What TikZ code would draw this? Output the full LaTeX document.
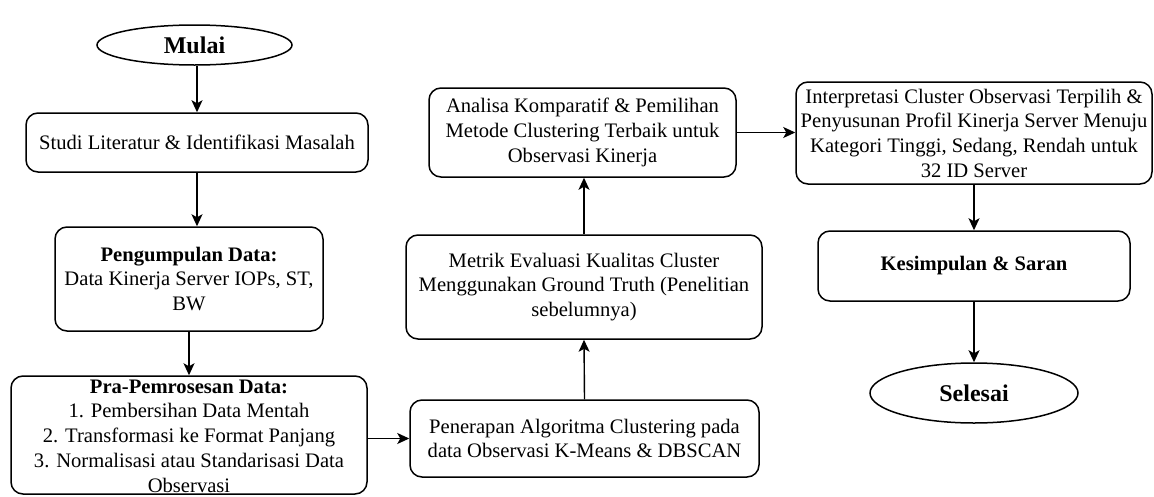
\documentclass[tikz,border=0pt]{standalone}
\usepackage{fontspec}
\setmainfont{Liberation Serif}
\usetikzlibrary{shapes.geometric,arrows.meta}
\begin{document}
\begin{tikzpicture}[x=1pt,y=-1pt,
  box/.style={draw, line width=1.5pt, rounded corners=12pt, align=center, inner sep=0pt,
    font=\fontsize{20.6}{24.7}\selectfont},
  term/.style={draw, ellipse, line width=1.5pt, inner sep=0pt, align=center,
    font=\fontsize{24}{28}\selectfont\bfseries},
  arr/.style={line width=1.4pt, -{Stealth[length=12pt,width=11pt,inset=3pt]}}]
\useasboundingbox (0,0) rectangle (1154,496);

\node[term, minimum width=195pt, minimum height=40pt] (mulai) at (194.5,45) {Mulai};
\node[box, minimum width=342pt, minimum height=59pt] (studi) at (197,142.5) {Studi Literatur \& Identifikasi Masalah};
\node[box, minimum width=268pt, minimum height=104pt] (peng) at (189,279) {\textbf{Pengumpulan Data:}\\Data Kinerja Server IOPs, ST,\\BW};
\node[box, minimum width=356pt, minimum height=118pt] (pra) at (189,435) {};
\node[align=center, inner sep=0pt, font=\fontsize{20.6}{24.7}\selectfont] (pratext) at (189,436) {\textbf{Pra-Pemrosesan Data:}\\1. Pembersihan Data Mentah\\2. Transformasi ke Format Panjang\\3. Normalisasi atau Standarisasi Data\\Observasi};
\node[box, minimum width=349pt, minimum height=77pt] (pen) at (584.5,438.5) {Penerapan Algoritma Clustering pada\\data Observasi K-Means \& DBSCAN};
\node[box, minimum width=356pt, minimum height=104pt] (met) at (584,287) {Metrik Evaluasi Kualitas Cluster\\Menggunakan Ground Truth (Penelitian\\sebelumnya)};
\node[box, minimum width=307pt, minimum height=89pt] (ana) at (582.5,132.5) {Analisa Komparatif \& Pemilihan\\Metode Clustering Terbaik untuk\\Observasi Kinerja};
\node[box, minimum width=356pt, minimum height=102pt] (int) at (974,133) {Interpretasi Cluster Observasi Terpilih \&\\Penyusunan Profil Kinerja Server Menuju\\Kategori Tinggi, Sedang, Rendah untuk\\32 ID Server};
\node[box, minimum width=312pt, minimum height=70pt] (kes) at (974,266) {\textbf{Kesimpulan \& Saran}};
\node[term, minimum width=208pt, minimum height=60pt] (sel) at (974,393) {Selesai};

\draw[arr] (mulai.south -| studi.north) -- (studi.north);
\draw[arr] (studi.south) -- (studi.south |- peng.north);
\draw[arr] (peng.south) -- (pra.north);
\draw[arr] (pra.east |- pen.west) -- (pen.west);
\draw[arr] (pen.north) -- (met.south);
\draw[arr] (met.north) -- (met.north |- ana.south);
\draw[arr] (ana.east) -- (ana.east -| int.west);
\draw[arr] (int.south) -- (kes.north);
\draw[arr] (kes.south) -- (sel.north);
\end{tikzpicture}
\end{document}
